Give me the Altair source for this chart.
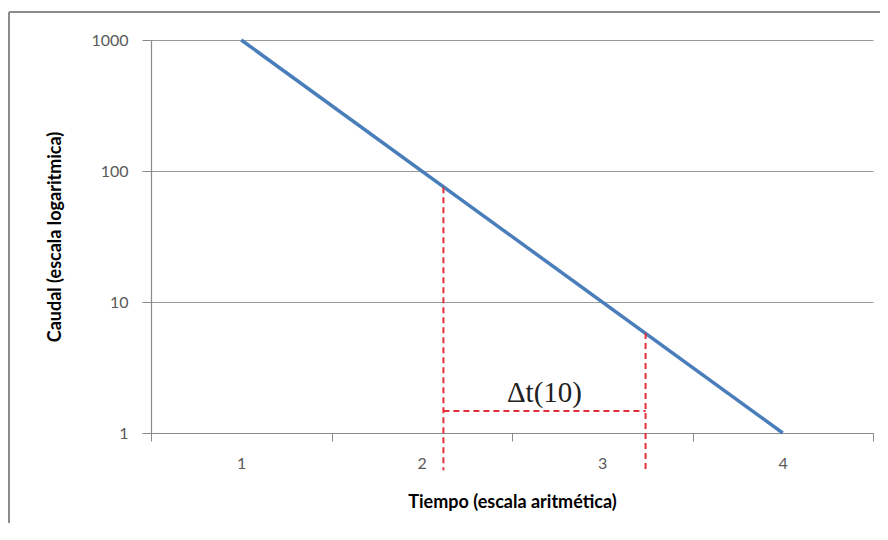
import altair as alt
import pandas as pd

# --- data ---
t_line = [1, 4]
q_line = [1000, 1]

t_cuts = [2.12, 3.24]          # red dashed verticals
q_cuts = [75, 5.8]             # where they meet the blue line
q_floor = 0.52                 # they run a bit below the x axis

q_delta = 1.47                 # horizontal dashed bracket
delta_label = "Δt(10)"

x_ticks = [0.5, 1.5, 2.5, 3.5, 4.5]
x_labels = [1, 2, 3, 4]
y_ticks = [1, 10, 100, 1000]

line_df = pd.DataFrame({"t": t_line, "q": q_line})
cuts_df = pd.DataFrame({"t": t_cuts, "q": q_cuts, "q0": [q_floor] * len(t_cuts)})
bracket_df = pd.DataFrame({"t1": [t_cuts[0]], "t2": [t_cuts[1]], "q": [q_delta],
                           "tm": [(t_cuts[0] + t_cuts[1]) / 2], "lab": [delta_label]})

FONT = "Lato"
GRAY = "#595959"
AX = "#8a8a8a"

xscale = alt.Scale(domain=[0.5, 4.5], nice=False, zero=False)
yscale = alt.Scale(type="log", domain=[1, 1000], nice=False)

x_axis_labels = alt.Axis(values=x_labels, ticks=False, grid=False, orient="bottom",
                         labelFont=FONT, labelFontSize=16, labelColor=GRAY,
                         labelPadding=22, domainColor=AX, domainWidth=1.2,
                         title="Tiempo (escala aritmética)", titleFont=FONT,
                         titleFontSize=18, titleFontWeight="bold", titleColor="black",
                         titlePadding=22)
y_axis = alt.Axis(values=y_ticks, format="d", grid=True, gridColor="#9a9a9a",
                  gridWidth=1, tickSize=9, tickColor=AX, domainColor=AX,
                  domainWidth=1.2, labelFont=FONT, labelFontSize=16, labelColor=GRAY,
                  labelPadding=14, title="Caudal (escala logaritmica)",
                  titleFont=FONT, titleFontSize=18, titleFontWeight="bold",
                  titleColor="black", titlePadding=26)

line = alt.Chart(line_df).mark_line(color="#4a7ebb", strokeWidth=3.5, clip=False).encode(
    x=alt.X("t:Q", scale=xscale, axis=x_axis_labels),
    y=alt.Y("q:Q", scale=yscale, axis=y_axis),
)

ticks_layer = alt.Chart(line_df).mark_line(opacity=0).encode(
    x=alt.X("t:Q", scale=xscale,
            axis=alt.Axis(values=x_ticks, labels=False, grid=False, orient="bottom",
                          tickSize=8, tickColor=AX, domain=False, title=None)),
    y=alt.Y("q:Q", scale=yscale),
)

red = "#e0303a"
vcuts = alt.Chart(cuts_df).mark_rule(color=red, strokeWidth=2, strokeDash=[6, 4],
                                     clip=False).encode(
    x=alt.X("t:Q", scale=xscale, axis=None),
    y=alt.Y("q:Q", scale=yscale), y2="q0:Q")

hcut = alt.Chart(bracket_df).mark_rule(color=red, strokeWidth=2, strokeDash=[6, 4],
                                       clip=False).encode(
    x=alt.X("t1:Q", scale=xscale, axis=None), x2="t2:Q",
    y=alt.Y("q:Q", scale=yscale))

label = alt.Chart(bracket_df).mark_text(font="Liberation Serif", fontSize=29,
                                        color="#222222", baseline="bottom", dy=-3).encode(
    x=alt.X("tm:Q", scale=xscale, axis=None),
    y=alt.Y("q:Q", scale=yscale), text="lab:N")

frame_df = pd.DataFrame({"a": [0]})
frame_left = alt.Chart(frame_df).mark_rule(color="#8c8c8c", strokeWidth=2).encode(
    x=alt.value(-142), y=alt.value(-28), y2=alt.value(520))
frame_top = alt.Chart(frame_df).mark_rule(color="#8c8c8c", strokeWidth=2).encode(
    x=alt.value(-142), x2=alt.value(760), y=alt.value(-28))

chart = alt.layer(frame_left, frame_top, line, ticks_layer, vcuts, hcut, label).resolve_axis(
    x="independent"
).properties(
    width=722, height=393,
    padding={"left": 143, "top": 32, "right": 7, "bottom": 90},
    autosize=alt.AutoSizeParams(type="none"),
    background="white",
).configure_view(stroke=None)

chart.save("out.html", embed_options={"renderer": "svg", "actions": False})
